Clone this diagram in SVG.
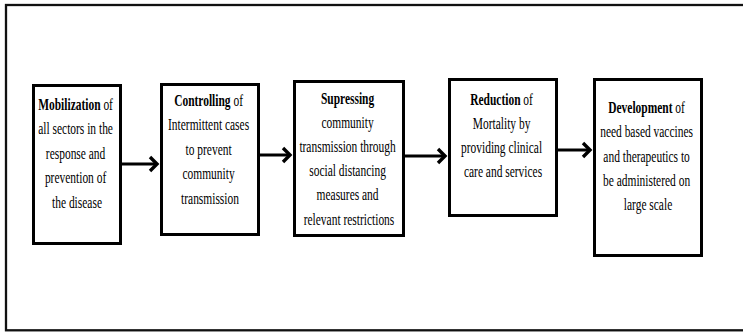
<svg xmlns="http://www.w3.org/2000/svg" width="743" height="332" viewBox="0 0 743 332">
  <defs>
    <style>
      .frame { fill: #ffffff; stroke: #111111; stroke-width: 2.3; }
      .box { fill: #ffffff; stroke: #000000; stroke-width: 3; }
      .label { font-family: "Liberation Serif", "Times New Roman", serif; font-size: 16.5px; fill: #000000; text-anchor: middle; }
      .label .b { font-weight: bold; }
      .link { stroke: #000000; stroke-width: 3; fill: none; }
    </style>
    <marker id="chevron" markerUnits="userSpaceOnUse" markerWidth="20" markerHeight="20" viewBox="-12 -10 16 20" refX="0" refY="0" orient="auto">
      <path d="M-7,-7 L0,0 L-7,7" fill="none" stroke="#000000" stroke-width="3.4" stroke-linejoin="miter"/>
    </marker>
  </defs>

  <!-- outer frame, open on the right edge -->
  <rect class="frame" x="6" y="5" width="745" height="325.3"/>

  <!-- Step 1 -->
  <g id="node-mobilization">
    <rect class="box" x="33.5" y="85.5" width="87" height="158"/>
    <g transform="translate(77 0) scale(0.695 1)">
      <text class="label">
        <tspan x="0" y="110"><tspan class="b">Mobilization</tspan> of</tspan>
        <tspan x="0" y="134.5">all sectors in the</tspan>
        <tspan x="0" y="159">response and</tspan>
        <tspan x="0" y="183.5">prevention of</tspan>
        <tspan x="0" y="208">the disease</tspan>
      </text>
    </g>
  </g>

  <!-- Step 2 -->
  <g id="node-controlling">
    <rect class="box" x="161.5" y="84.5" width="97" height="150"/>
    <g transform="translate(210 0) scale(0.695 1)">
      <text class="label">
        <tspan x="0" y="106"><tspan class="b">Controlling</tspan> of</tspan>
        <tspan x="0" y="130.5">Intermittent cases</tspan>
        <tspan x="0" y="155">to prevent</tspan>
        <tspan x="0" y="179.5">community</tspan>
        <tspan x="0" y="204">transmission</tspan>
      </text>
    </g>
  </g>

  <!-- Step 3 -->
  <g id="node-supressing">
    <rect class="box" x="294.5" y="81.5" width="109" height="154"/>
    <g transform="translate(349 0) scale(0.695 1)">
      <text class="label">
        <tspan x="0" y="104" class="b">Supressing</tspan>
        <tspan x="0" y="128">community</tspan>
        <tspan x="0" y="152.5">transmission through</tspan>
        <tspan x="0" y="176.5">social distancing</tspan>
        <tspan x="0" y="200.5">measures and</tspan>
        <tspan x="0" y="225">relevant restrictions</tspan>
      </text>
    </g>
  </g>

  <!-- Step 4 -->
  <g id="node-reduction">
    <rect class="box" x="449.5" y="79.5" width="107" height="136"/>
    <g transform="translate(503 0) scale(0.695 1)">
      <text class="label">
        <tspan x="0" y="105"><tspan class="b">Reduction</tspan> of</tspan>
        <tspan x="0" y="129.5">Mortality by</tspan>
        <tspan x="0" y="153.5">providing clinical</tspan>
        <tspan x="0" y="177.5">care and services</tspan>
      </text>
    </g>
  </g>

  <!-- Step 5 -->
  <g id="node-development">
    <rect class="box" x="594.5" y="79.5" width="107" height="176"/>
    <g transform="translate(648 0) scale(0.695 1)">
      <text class="label">
        <tspan x="0" y="113"><tspan class="b">Development</tspan> of</tspan>
        <tspan x="0" y="137.5">need based vaccines</tspan>
        <tspan x="0" y="162">and therapeutics to</tspan>
        <tspan x="0" y="186.5">be administered on</tspan>
        <tspan x="0" y="210.5">large scale</tspan>
      </text>
    </g>
  </g>

  <!-- connectors between consecutive steps -->
  <g id="connectors">
    <line class="link" x1="122" y1="164" x2="157" y2="164" marker-end="url(#chevron)"/>
    <line class="link" x1="260" y1="155" x2="290" y2="155" marker-end="url(#chevron)"/>
    <line class="link" x1="405" y1="156" x2="445" y2="156" marker-end="url(#chevron)"/>
    <line class="link" x1="558" y1="150" x2="590" y2="150" marker-end="url(#chevron)"/>
  </g>
</svg>
